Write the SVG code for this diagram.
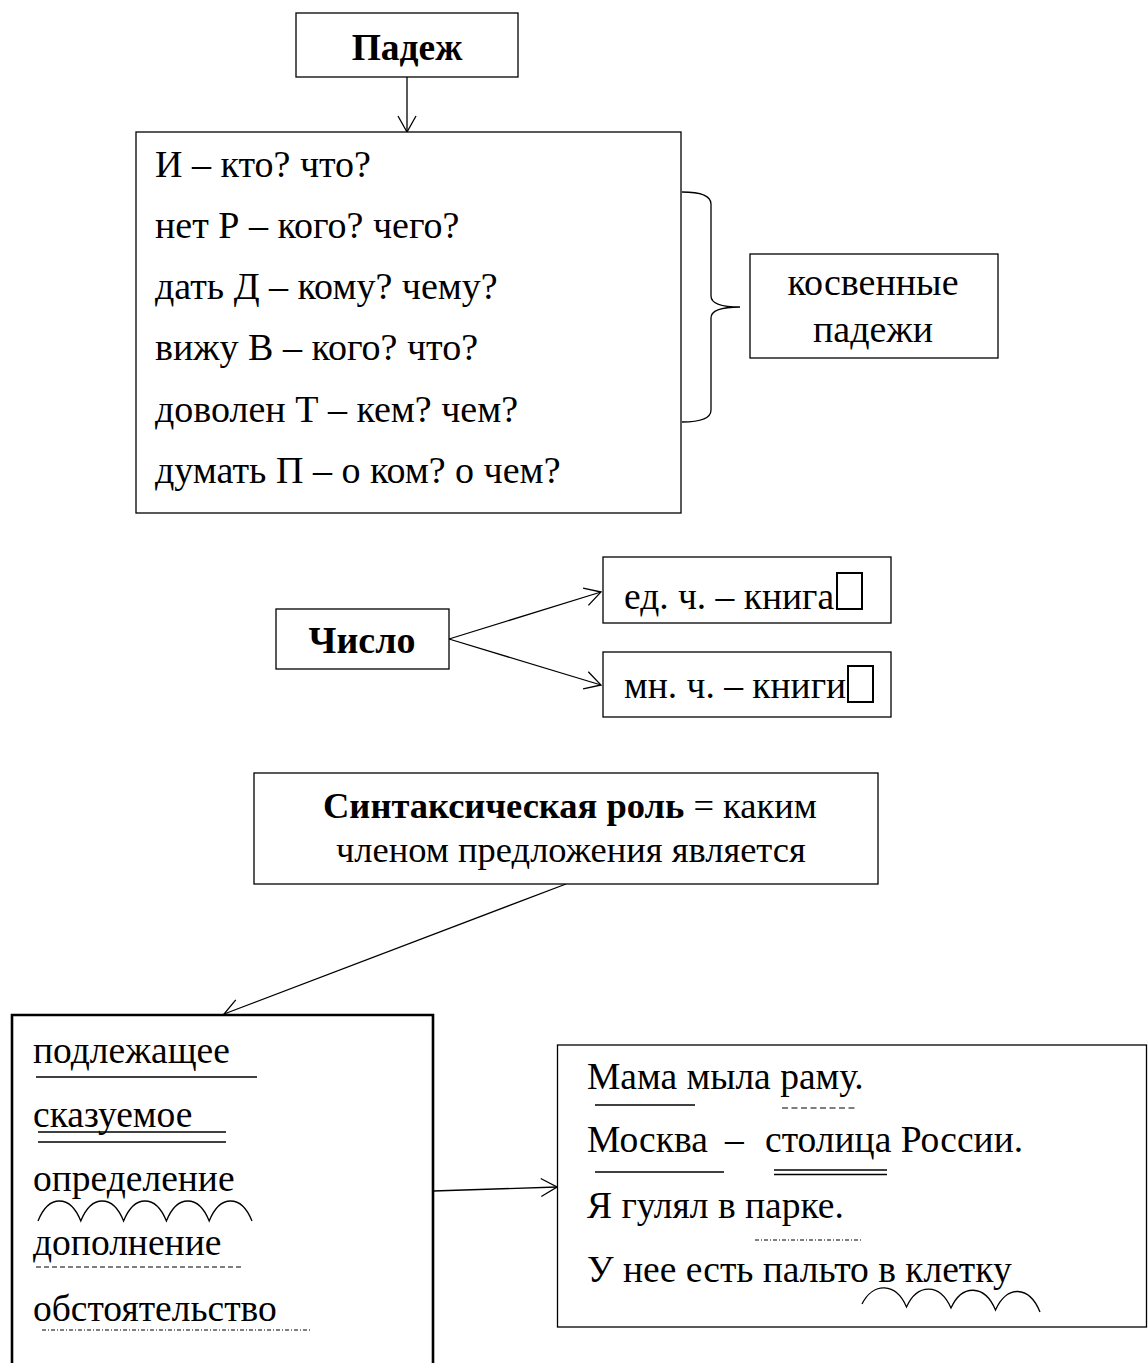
<svg xmlns="http://www.w3.org/2000/svg" width="1148" height="1363" viewBox="0 0 1148 1363">
<defs>
<marker id="arr" viewBox="0 0 18 20" refX="17" refY="10" markerWidth="18" markerHeight="20" markerUnits="userSpaceOnUse" orient="auto">
<path d="M1,1 L17,10 L1,19" fill="none" stroke="#000" stroke-width="1.3"/>
</marker>
<style>
text{font-family:"Liberation Serif","Times New Roman",serif;font-size:37.5px;fill:#000}
.b{font-weight:bold}
.c{font-size:38px}
.box{fill:#fff;stroke:#000;stroke-width:1.3}
.thick{fill:#fff;stroke:#000;stroke-width:2.6}
.ln{fill:none;stroke:#000;stroke-width:1.3}
.con{fill:none;stroke:#000;stroke-width:1.3;marker-end:url(#arr)}
.dash{fill:none;stroke:#000;stroke-width:1.2;stroke-dasharray:5 3}
.dd{fill:none;stroke:#000;stroke-width:1.2;stroke-dasharray:4 2 1 2}
.tofu{fill:none;stroke:#000;stroke-width:2}
</style>
</defs>
<rect width="1148" height="1363" fill="#fff"/>

<g id="connectors">
<line class="con" x1="407" y1="77" x2="407" y2="132"/>
<line class="con" x1="449" y1="639" x2="601" y2="592"/>
<line class="con" x1="449" y1="639" x2="601" y2="685"/>
<line class="con" x1="566" y1="884" x2="224" y2="1014"/>
<line class="con" x1="433" y1="1191" x2="557" y2="1187"/>
</g>

<g id="padezh">
<rect class="box" x="296" y="13" width="222" height="64"/>
<text class="b" x="407" y="60" text-anchor="middle">Падеж</text>
</g>

<g id="cases">
<rect class="box" x="136" y="132" width="545" height="381"/>
<text class="c" x="155" y="177">И – кто? что?</text>
<text class="c" x="155" y="238">нет Р – кого? чего?</text>
<text class="c" x="155" y="299">дать Д – кому? чему?</text>
<text class="c" x="155" y="360">вижу В – кого? что?</text>
<text class="c" x="155" y="422">доволен Т – кем? чем?</text>
<text class="c" x="155" y="483">думать П – о ком? о чем?</text>
</g>

<g id="brace">
<path class="ln" d="M682,192 Q711,192 711,204 L711,296 Q711,307 740,307 Q711,307 711,318 L711,410 Q711,422 682,422"/>
</g>

<g id="indirect">
<rect class="box" x="750" y="254" width="248" height="104"/>
<text class="c" x="873" y="295" text-anchor="middle">косвенные</text>
<text class="c" x="873" y="342" text-anchor="middle">падежи</text>
</g>

<g id="chislo">
<rect class="box" x="276" y="609" width="173" height="60"/>
<text class="b c" x="362" y="653" text-anchor="middle">Число</text>
</g>

<g id="singular">
<rect class="box" x="603" y="557" width="288" height="66"/>
<text x="624" y="609">ед. ч. – книга</text>
<rect class="tofu" x="837" y="573" width="25" height="36"/>
</g>

<g id="plural">
<rect class="box" x="603" y="652" width="288" height="65"/>
<text x="624" y="698">мн. ч. – книги</text>
<rect class="tofu" x="848" y="666" width="25" height="36"/>
</g>

<g id="syntax">
<rect class="box" x="254" y="773" width="624" height="111"/>
<text x="323" y="818" style="font-size:36.5px"><tspan class="b">Синтаксическая роль</tspan> = каким</text>
<text x="336" y="862" style="font-size:36.5px">членом предложения является</text>
</g>

<g id="members">
<path class="thick" d="M12,1363 L12,1015 L433,1015 L433,1363"/>
<text x="33" y="1063">подлежащее</text>
<line class="ln" x1="36" y1="1077" x2="257" y2="1077"/>
<text x="33" y="1127">сказуемое</text>
<line class="ln" x1="38" y1="1132" x2="226" y2="1132"/>
<line class="ln" x1="38" y1="1142" x2="226" y2="1142"/>
<text x="33" y="1191">определение</text>
<path class="ln" d="M38,1221 C48.7,1194.3 70.1,1194.3 80.8,1221 C91.5,1194.3 112.9,1194.3 123.6,1221 C134.3,1194.3 155.7,1194.3 166.4,1221 C177.1,1194.3 198.5,1194.3 209.2,1221 C219.9,1194.3 241.3,1194.3 252,1221"/>
<text x="33" y="1255">дополнение</text>
<line class="dash" x1="36" y1="1267" x2="243" y2="1267"/>
<text x="33" y="1321">обстоятельство</text>
<line class="dd" x1="42" y1="1330" x2="311" y2="1330"/>
</g>

<g id="examples">
<rect class="box" x="557.5" y="1045" width="589" height="282"/>
<text x="587" y="1089">Мама мыла раму.</text>
<line class="ln" x1="595" y1="1105" x2="695" y2="1105"/>
<line class="dash" x1="782" y1="1108" x2="858" y2="1108" style="stroke-dasharray:6 3.5"/>
<text y="1152"><tspan x="587">Москва</tspan><tspan x="725">–</tspan><tspan x="765">столица России.</tspan></text>
<line class="ln" x1="595" y1="1172" x2="724" y2="1172"/>
<line class="ln" x1="774" y1="1170" x2="887" y2="1170" style="stroke-width:1.6"/>
<line class="ln" x1="774" y1="1174.5" x2="887" y2="1174.5" style="stroke-width:1.6"/>
<text x="587" y="1218">Я гулял в парке.</text>
<line class="dd" x1="755" y1="1240" x2="862" y2="1240"/>
<text x="587" y="1282">У нее есть пальто в клетку</text>
<path class="ln" d="M862,1304 C873,1282 896,1282 906.5,1307 C917.5,1283 940,1283 951,1308 C962,1284 984.5,1284 995.5,1310 C1006.5,1285 1029,1285 1040,1312"/>
</g>
</svg>
